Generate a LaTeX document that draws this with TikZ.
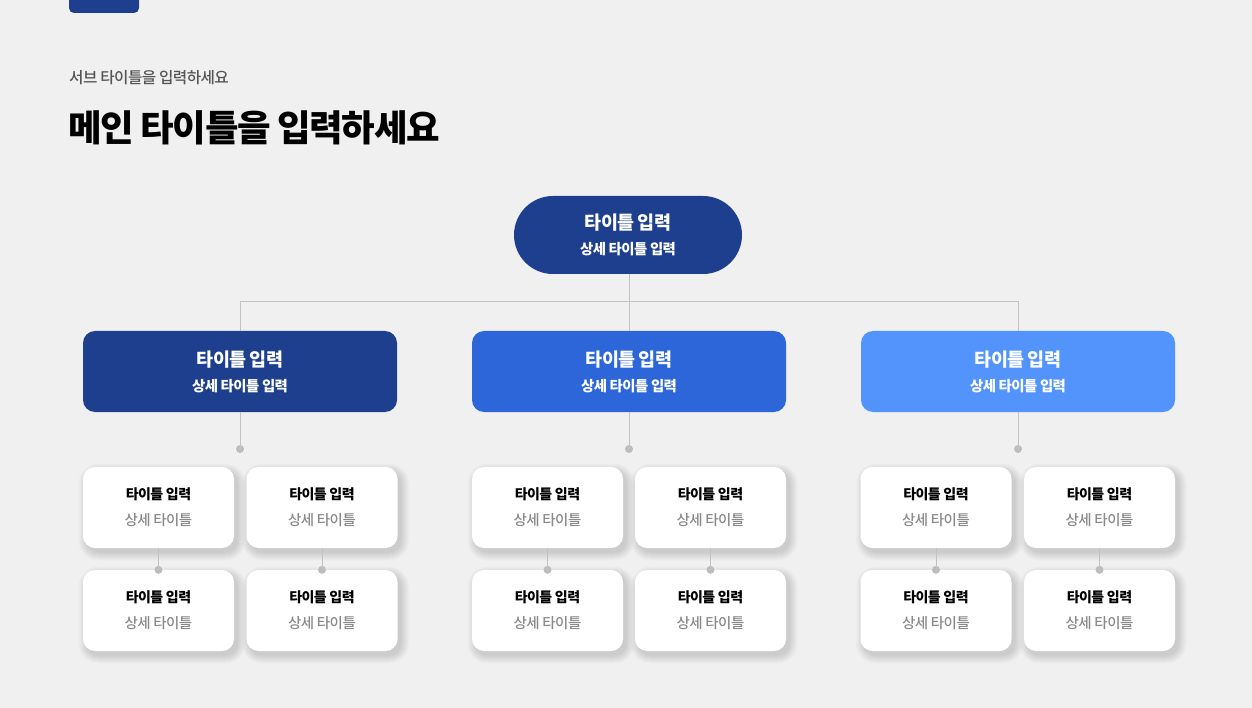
\documentclass[tikz,border=0pt]{standalone}
\usepackage{fontspec}
\setmainfont{Noto Sans CJK KR}[LetterSpace=-4]
\newfontfamily\medfont{Noto Sans CJK KR Medium}[LetterSpace=-4]
\definecolor{bg}{HTML}{F0F0F0}
\definecolor{navy}{HTML}{1E3F8E}
\definecolor{midblue}{HTML}{2D66D8}
\definecolor{lightblue}{HTML}{5294FB}
\definecolor{linegray}{HTML}{C2C2C2}
\definecolor{dotgray}{HTML}{BDBDBD}
\definecolor{subgray}{HTML}{555555}
\definecolor{txtgray}{HTML}{8A8A8A}
\tikzset{
  rootbox/.style={fill=navy, text=white, rounded corners=39pt, minimum width=228pt, minimum height=78pt, inner sep=0pt, align=center, font=\fontsize{14.4}{25.5}\selectfont},
  midbox/.style={rounded corners=12pt, text=white, minimum width=314pt, minimum height=81pt, inner sep=0pt, align=center, font=\fontsize{14.4}{25}\selectfont},
  leafbox/.style={fill=white, rounded corners=12pt, minimum width=151pt, minimum height=81pt, inner sep=0pt, align=center, font=\fontsize{14.5}{26}\selectfont},
  shadowlayer/.style={fill=black, fill opacity=0.014},
  conn/.style={draw=linegray, line width=1pt},
  dotnode/.style={circle, fill=dotgray, minimum size=8pt, inner sep=0pt},
}
\newcommand{\bigtxt}[2]{{\fontsize{18.5}{25}\selectfont\bfseries #1}\\{\bfseries #2}}
\newcommand{\leaftxt}{{\fontsize{14}{26}\selectfont\bfseries 타이틀 입력}\\{\medfont\color{txtgray}상세 타이틀}}
\newcommand{\leafshadow}[2]{%
  \foreach \k in {0,...,8}{%
    \fill[shadowlayer, rounded corners=12+\k] ({#1-75.5-\k+3.5},{#2-40.5-\k+4.5}) rectangle ({#1+75.5+\k+3.5},{#2+40.5+\k+4.5});
  }}
\begin{document}
\begin{tikzpicture}[x=1pt,y=-1pt]
\fill[bg] (0,0) rectangle (1252,708);
\useasboundingbox (0,0) rectangle (1252,708);
\begin{scope}
\clip (0,0) rectangle (1252,708);
\fill[navy, rounded corners=5pt] (69,-12) rectangle (139,13);
\end{scope}
\node[anchor=base west, inner sep=0pt, text=subgray, font=\fontsize{15.7}{18}\medfont] (sub) at (69,84) {서브 타이틀을 입력하세요};
\node[anchor=base west, inner sep=0pt, text=black, font=\fontsize{36.5}{40}\selectfont\bfseries] (title) at (68,142) {메인 타이틀을 입력하세요};

\node[rootbox] (root) at (628,235) {\bigtxt{타이틀 입력}{상세 타이틀 입력}};
\node[midbox, fill=navy] (b1) at (240,371.5) {\bigtxt{타이틀 입력}{상세 타이틀 입력}};
\node[midbox, fill=midblue] (b2) at (629,371.5) {\bigtxt{타이틀 입력}{상세 타이틀 입력}};
\node[midbox, fill=lightblue] (b3) at (1018,371.5) {\bigtxt{타이틀 입력}{상세 타이틀 입력}};
\coordinate (bus) at (629,302);
\draw[conn] (root.south -| bus) -- (bus);
\draw[conn] (bus) -| (b1.north);
\draw[conn] (bus) -| (b3.north);
\draw[conn] (bus) -- (b2.north);

% leaves
\foreach \g/\xa/\xb in {1/158.5/322, 2/547.5/710.5, 3/936/1099.5}{
  \leafshadow{\xa}{507.5}
  \leafshadow{\xb}{507.5}
  \leafshadow{\xa}{610.5}
  \leafshadow{\xb}{610.5}
  \node[leafbox] (c\g a) at (\xa,507.5) {\leaftxt};
  \node[leafbox] (c\g b) at (\xb,507.5) {\leaftxt};
  \node[leafbox] (c\g c) at (\xa,610.5) {\leaftxt};
  \node[leafbox] (c\g d) at (\xb,610.5) {\leaftxt};
  \node[dotnode] (e\g a) at (c\g c.north) {};
  \node[dotnode] (e\g b) at (c\g d.north) {};
  \draw[conn] (c\g a.south) -- (e\g a.center);
  \draw[conn] (c\g b.south) -- (e\g b.center);
  \node[dotnode] (e\g top) at (b\g.south |- 0,449) {};
  \draw[conn] (b\g.south) -- (e\g top.center);
}
\end{tikzpicture}
\end{document}
